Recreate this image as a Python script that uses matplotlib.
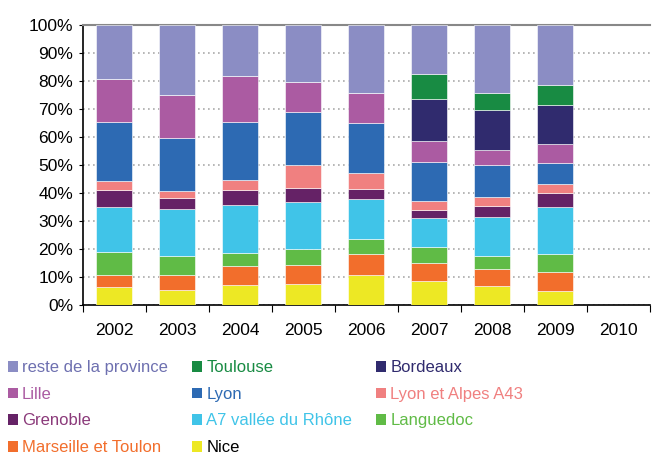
import numpy as np
import matplotlib.pyplot as plt
from matplotlib.patches import Patch

plt.rcParams['font.family'] = ['Liberation Sans', 'DejaVu Sans']

years = ['2002', '2003', '2004', '2005', '2006', '2007', '2008', '2009', '2010']

# shares in %, one list per zone (2010 has no data)
nice = [6.5, 5.2, 7.1, 7.5, 10.5, 8.6, 6.8, 5.1, 0]
marseille = [4.3, 5.3, 6.7, 6.7, 7.6, 6.4, 5.9, 6.8, 0]
languedoc = [8.0, 7.1, 4.7, 5.8, 5.4, 5.6, 4.9, 6.2, 0]
a7 = [16.3, 16.8, 17.2, 16.9, 14.4, 10.6, 13.9, 16.8, 0]
grenoble = [6.1, 3.9, 5.5, 4.8, 3.5, 2.8, 3.9, 5.2, 0]
lyon_a43 = [3.1, 2.3, 3.4, 8.4, 5.9, 3.1, 3.2, 3.2, 0]
lyon = [21.2, 19.2, 20.9, 18.7, 17.6, 14.1, 11.5, 7.3, 0]
lille = [15.1, 15.1, 16.2, 10.7, 10.7, 7.3, 5.4, 6.9, 0]
bordeaux = [0, 0, 0, 0, 0, 15.1, 14.3, 14.0, 0]
toulouse = [0, 0, 0, 0, 0, 8.8, 5.8, 7.2, 0]
reste = [19.4, 25.1, 18.3, 20.5, 24.4, 17.6, 24.4, 21.3, 0]

series = [
    ('Nice', nice, '#EDE824'),
    ('Marseille et Toulon', marseille, '#F26E2C'),
    ('Languedoc', languedoc, '#60BB46'),
    ('A7 vallée du Rhône', a7, '#40C4E8'),
    ('Grenoble', grenoble, '#652266'),
    ('Lyon et Alpes A43', lyon_a43, '#F08080'),
    ('Lyon', lyon, '#2D6AB3'),
    ('Lille', lille, '#AB5BA2'),
    ('Bordeaux', bordeaux, '#302B6E'),
    ('Toulouse', toulouse, '#188B43'),
    ('reste de la province', reste, '#8B8DC4'),
]

fig = plt.figure(figsize=(6.53, 4.57), dpi=100)
ax = fig.add_axes([0.127, 0.333, 0.868, 0.612])

x = np.arange(len(years))
bottom = np.zeros(len(years))
for name, vals, col in series:
    vals = np.array(vals, dtype=float)
    ax.bar(x, vals, 0.57, bottom=bottom, color=col, edgecolor='white', linewidth=0.4, zorder=3)
    bottom += vals

ax.set_xlim(-0.5, len(years) - 0.5)
ax.set_ylim(0, 100)
ax.set_yticks(np.arange(0, 101, 10))
ax.set_yticklabels([f'{v}%' for v in range(0, 101, 10)], fontsize=12.5)
ax.set_xticks(x)
ax.set_xticklabels(years, fontsize=12.5)
ax.tick_params(axis='x', length=0, pad=13)
ax.set_xticks(np.arange(-0.5, len(years), 1), minor=True)
ax.tick_params(axis='x', which='minor', length=5, direction='out', width=0.8)
ax.tick_params(axis='y', length=3, direction='out', width=0.8, pad=4)

ax.grid(axis='y', linestyle=(0, (1, 2)), color='#aaaaaa', linewidth=1.2, zorder=0)
ax.spines['right'].set_visible(False)
ax.spines['top'].set_color('#888888')
ax.spines['top'].set_linewidth(1.5)
ax.spines['left'].set_linewidth(1.2)
ax.spines['bottom'].set_linewidth(1.2)

order = ['reste de la province', 'Lille', 'Grenoble', 'Marseille et Toulon',
         'Toulouse', 'Lyon', 'A7 vallée du Rhône', 'Nice',
         'Bordeaux', 'Lyon et Alpes A43', 'Languedoc']
cmap = {n: c for n, _, c in series}
handles = [Patch(facecolor=cmap[n], edgecolor='none') for n in order]
leg = fig.legend(handles, order, ncol=3, loc='upper left', bbox_to_anchor=(0.012, 0.212),
                 frameon=False, fontsize=12, handlelength=0.6, handleheight=0.6,
                 handletextpad=0.25, columnspacing=1.45, labelspacing=0.7,
                 borderaxespad=0, borderpad=0)
text_colors = {'Grenoble': '#8B3A7A', 'Nice': 'black', 'reste de la province': '#6E70B0',
               'Lille': '#AB5BA2'}
for t in leg.get_texts():
    t.set_color(text_colors.get(t.get_text(), cmap[t.get_text()]))

fig.savefig('out.png', dpi=100)
